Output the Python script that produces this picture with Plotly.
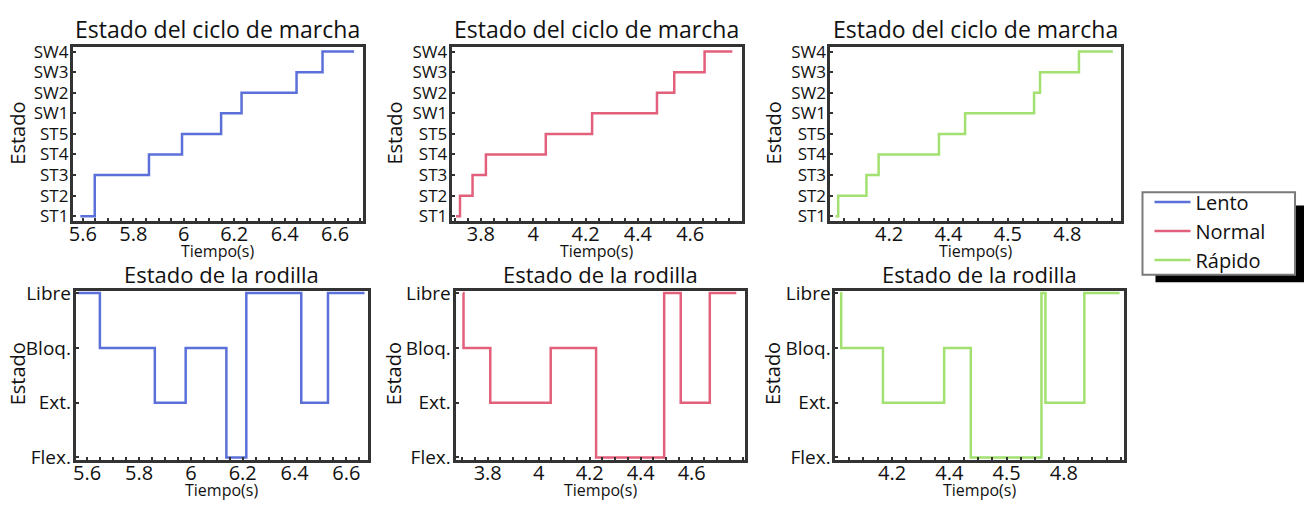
import plotly.graph_objects as go

W, H = 1304, 508

# ---------------- data ----------------
gait_states = ["ST1", "ST2", "ST3", "ST4", "ST5", "SW1", "SW2", "SW3", "SW4"]
knee_states = ["Flex.", "Ext.", "Bloq.", "Libre"]

series_names = ["Lento", "Normal", "Rápido"]
series_colors = ["#5b70d8", "#e2607c", "#a2e070"]

lento_gait_t = [5.59, 5.647, 5.862, 5.993, 6.148, 6.229, 6.447, 6.55, 6.675]
lento_gait_s = ["ST1", "ST3", "ST4", "ST5", "SW1", "SW2", "SW3", "SW4", "SW4"]
normal_gait_t = [3.705, 3.72, 3.768, 3.819, 4.048, 4.225, 4.473, 4.539, 4.655, 4.761]
normal_gait_s = ["ST1", "ST2", "ST3", "ST4", "ST5", "SW1", "SW2", "SW3", "SW4", "SW4"]
rapido_gait_t = [4.02, 4.029, 4.124, 4.165, 4.368, 4.456, 4.688, 4.708, 4.839, 4.953]
rapido_gait_s = ["ST1", "ST2", "ST3", "ST4", "ST5", "SW1", "SW2", "SW3", "SW4", "SW4"]

lento_knee_t = [5.565, 5.649, 5.861, 5.98, 6.137, 6.214, 6.426, 6.529, 6.67]
lento_knee_s = ["Libre", "Bloq.", "Ext.", "Bloq.", "Flex.", "Libre", "Ext.", "Libre", "Libre"]
normal_knee_t = [3.703, 3.705, 3.81, 4.047, 4.225, 4.492, 4.557, 4.671, 4.775]
normal_knee_s = ["Libre", "Bloq.", "Ext.", "Bloq.", "Flex.", "Libre", "Ext.", "Libre", "Libre"]
rapido_knee_t = [4.019, 4.022, 4.168, 4.382, 4.475, 4.722, 4.736, 4.872, 4.995]
rapido_knee_s = ["Libre", "Bloq.", "Ext.", "Bloq.", "Flex.", "Libre", "Ext.", "Libre", "Libre"]

lento_tickvals = [5.6, 5.8, 6.0, 6.2, 6.4, 6.6]
lento_ticktext = ["5.6", "5.8", "6", "6.2", "6.4", "6.6"]
normal_tickvals = [3.8, 4.0, 4.2, 4.4, 4.6]
normal_ticktext = ["3.8", "4", "4.2", "4.4", "4.6"]
rapido_tickvals = [4.2, 4.4, 4.6, 4.8]
rapido_ticktext = ["4.2", "4.4", "4.5", "4.8"]

title_top = "Estado del ciclo de marcha"
title_bot = "Estado de la rodilla"
xlabel = "Tiempo(s)"
ylabel = "Estado"

# ---------------- layout geometry (pixels) ----------------
top_boxes = [(69, 360), (449, 740), (829, 1120)]
bot_boxes = [(72, 365), (453, 743), (834, 1123)]
top_y = (38, 219)
bot_y = (292, 468)

top_xr = [[5.56, 6.71], [3.688, 4.797], [4.003, 4.979]]
bot_xr = [[5.556, 6.683], [3.674, 4.808], [4.002, 5.009]]

gait_t = [lento_gait_t, normal_gait_t, rapido_gait_t]
gait_s = [lento_gait_s, normal_gait_s, rapido_gait_s]
knee_t = [lento_knee_t, normal_knee_t, rapido_knee_t]
knee_s = [lento_knee_s, normal_knee_s, rapido_knee_s]
tvals = [lento_tickvals, normal_tickvals, rapido_tickvals]
ttext = [lento_ticktext, normal_ticktext, rapido_ticktext]

FONT = "Open Sans"
BORDER = "#333333"
TXT = "#111111"

fig = go.Figure()
layout = dict(
    width=W, height=H,
    margin=dict(l=0, r=0, t=0, b=0),
    paper_bgcolor="white", plot_bgcolor="white",
    font=dict(family=FONT, size=18, color=TXT),
    showlegend=True,
)

def xdom(a, b):
    return [a / W, b / W]

def ydom(t, b):
    return [1 - b / H, 1 - t / H]

annotations = []
for i in range(3):
    for row in range(2):
        k = 2 * i + row + 1
        xa = "xaxis" if k == 1 else f"xaxis{k}"
        ya = "yaxis" if k == 1 else f"yaxis{k}"
        xref = "x" if k == 1 else f"x{k}"
        yref = "y" if k == 1 else f"y{k}"
        if row == 0:
            box, yb, xr = top_boxes[i], top_y, top_xr[i]
            cats, yr = gait_states, [-0.23, 8.2]
            t, s = gait_t[i], gait_s[i]
        else:
            box, yb, xr = bot_boxes[i], bot_y, bot_xr[i]
            cats, yr = knee_states, [-0.04, 3.04]
            t, s = knee_t[i], knee_s[i]
        fig.add_trace(go.Scatter(
            x=t, y=s, mode="lines", line=dict(color=series_colors[i], width=2.5, shape="hv"),
            name=series_names[i], showlegend=(row == 0), legendgroup=series_names[i],
            xaxis=xref, yaxis=yref, hoverinfo="skip"))
        layout[xa] = dict(
            domain=xdom(*box), anchor=yref, range=xr,
            showgrid=False, zeroline=False,
            showline=True, linecolor=BORDER, linewidth=3, mirror=True,
            tickmode="array", tickvals=tvals[i], ticktext=ttext[i],
            ticks="inside", ticklen=3, tickcolor=BORDER, tickwidth=2,
            minor=dict(ticks="inside", ticklen=3, dtick=0.05, tickcolor=BORDER, tickwidth=2, tick0=0),
            tickfont=dict(size=20, family=FONT, color=TXT),
            ticklabelstandoff=-7,
        )
        layout[ya] = dict(
            domain=ydom(*yb), anchor=xref, type="category",
            categoryorder="array", categoryarray=cats, range=yr,
            tickmode="array", tickvals=cats, ticktext=cats,
            showgrid=False, zeroline=False,
            showline=True, linecolor=BORDER, linewidth=3, mirror=True,
            ticks="inside", ticklen=3, tickcolor=BORDER, tickwidth=2,
            tickfont=dict(size=17 if row == 0 else 19, family=FONT, color=TXT),
            ticklabelstandoff=-2,
        )
        cx = (box[0] + box[1]) / 2 / W
        ty = 19 if row == 0 else 274
        annotations.append(dict(
            text=title_top if row == 0 else title_bot, x=cx, y=1 - ty / H,
            xref="paper", yref="paper", showarrow=False, xanchor="center", yanchor="middle",
            font=dict(size=23 if row == 0 else 22, family=FONT, color=TXT)))
        ly = 250 if row == 0 else 500
        annotations.append(dict(
            text=xlabel, x=cx, y=1 - ly / H, xref="paper", yref="paper", showarrow=False,
            xanchor="center", yanchor="middle", font=dict(size=16, family=FONT, color=TXT)))
        ex = [14, 392, 772][i] if row == 0 else [13, 391, 771][i]
        ey = 127 if row == 0 else 378
        annotations.append(dict(
            text=ylabel, x=ex / W, y=1 - ey / H, xref="paper", yref="paper", showarrow=False,
            textangle=-90, xanchor="center", yanchor="middle",
            font=dict(size=20, family=FONT, color=TXT)))

layout["annotations"] = annotations
layout["legend"] = dict(
    x=1149 / W, y=1 - 179 / H, xanchor="left", yanchor="top",
    bgcolor="rgba(0,0,0,0)", borderwidth=0,
    font=dict(size=20, family=FONT, color=TXT),
    itemwidth=36, tracegroupgap=0,
)
layout["shapes"] = [
    dict(type="rect", xref="paper", yref="paper",
         x0=1155 / W, x1=1.0, y0=1 - 283 / H, y1=1 - 203 / H,
         fillcolor="black", line=dict(width=0), layer="above"),
    dict(type="rect", xref="paper", yref="paper",
         x0=1142 / W, x1=1295 / W, y0=1 - 275 / H, y1=1 - 189 / H,
         fillcolor="white", line=dict(width=2, color="#7a7a7a"), layer="above"),
]

fig.update_layout(**layout)
fig.write_html("out.html")
